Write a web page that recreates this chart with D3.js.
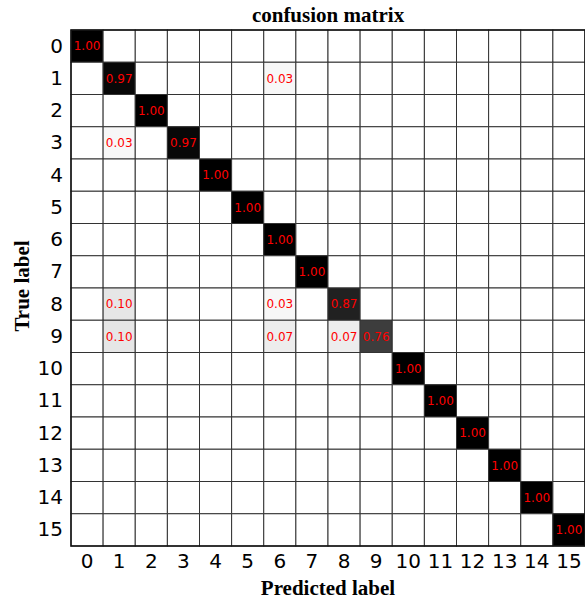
<!DOCTYPE html>
<html lang="en">
<head>
<meta charset="UTF-8">
<script src="https://d3js.org/d3.v7.min.js"></script>
<style>
  body { margin: 0; background: #fff; }
  svg { display: block; }
</style>
</head>
<body>
<svg id="chart" width="585" height="600"></svg>
<script>
// ---- data ----
const labels = d3.range(16).map(String);
const diagonal = [1.00, 0.97, 1.00, 0.97, 1.00, 1.00, 1.00, 1.00, 0.87, 0.76, 1.00, 1.00, 1.00, 1.00, 1.00, 1.00];
// off-diagonal entries: [true, predicted, value]
const offDiagonal = [
  [1, 6, 0.03],
  [3, 1, 0.03],
  [8, 1, 0.10],
  [8, 6, 0.03],
  [9, 1, 0.10],
  [9, 6, 0.07],
  [9, 8, 0.07]
];

// build the full matrix
const cells = [];
labels.forEach((t, i) => labels.forEach((p, j) => {
  let v = i === j ? diagonal[i] : 0;
  const hit = offDiagonal.find(d => d[0] === i && d[1] === j);
  if (hit) v = hit[2];
  cells.push({ t, p, v });
}));

// ---- layout ----
const margin = { left: 71, top: 30, right: 0, bottom: 54 };
const svg = d3.select('#chart');
const W = +svg.attr('width'), H = +svg.attr('height');
const w = W - margin.left - margin.right;
const h = H - margin.top - margin.bottom;

const x = d3.scaleBand().domain(labels).range([0, w]);
const y = d3.scaleBand().domain(labels).range([0, h]);
const color = d3.scaleLinear().domain([0, 1]).range(['#ffffff', '#000000']);

const g = svg.append('g').attr('transform', `translate(${margin.left},${margin.top})`);

g.selectAll('rect.cell').data(cells).join('rect')
  .attr('class', 'cell')
  .attr('x', d => x(d.p))
  .attr('y', d => y(d.t))
  .attr('width', x.bandwidth())
  .attr('height', y.bandwidth())
  .attr('fill', d => color(d.v))
  .attr('stroke', '#333')
  .attr('stroke-width', 1);

g.selectAll('text.val').data(cells.filter(d => d.v > 0)).join('text')
  .attr('class', 'val')
  .attr('x', d => x(d.p) + x.bandwidth() / 2)
  .attr('y', d => y(d.t) + y.bandwidth() / 2)
  .attr('dy', '0.35em')
  .attr('text-anchor', 'middle')
  .attr('fill', '#ff0000')
  .style('font', '12px "DejaVu Sans", sans-serif')
  .text(d => d.v.toFixed(2));

// outer frame
g.append('rect').attr('width', w).attr('height', h)
  .attr('fill', 'none').attr('stroke', '#111').attr('stroke-width', 1.5);

// axes
const xAxis = g.append('g').attr('transform', `translate(0,${h})`)
  .call(d3.axisBottom(x).tickSize(0).tickPadding(8));
const yAxis = g.append('g')
  .call(d3.axisLeft(y).tickSize(0).tickPadding(8));
[xAxis, yAxis].forEach(a => {
  a.select('.domain').remove();
  a.selectAll('text').style('font', '20px "DejaVu Sans", sans-serif').attr('fill', '#000');
});

// titles
svg.append('text')
  .attr('x', margin.left + w / 2).attr('y', 22)
  .attr('text-anchor', 'middle')
  .style('font', 'bold 21px "Liberation Serif", serif')
  .text('confusion matrix');

svg.append('text')
  .attr('x', margin.left + w / 2).attr('y', 595)
  .attr('text-anchor', 'middle')
  .style('font', 'bold 21px "Liberation Serif", serif')
  .text('Predicted label');

svg.append('text')
  .attr('transform', `translate(29,${margin.top + h / 2 - 2}) rotate(-90)`)
  .attr('text-anchor', 'middle')
  .style('font', 'bold 21px "Liberation Serif", serif')
  .text('True label');
</script>
</body>
</html>
